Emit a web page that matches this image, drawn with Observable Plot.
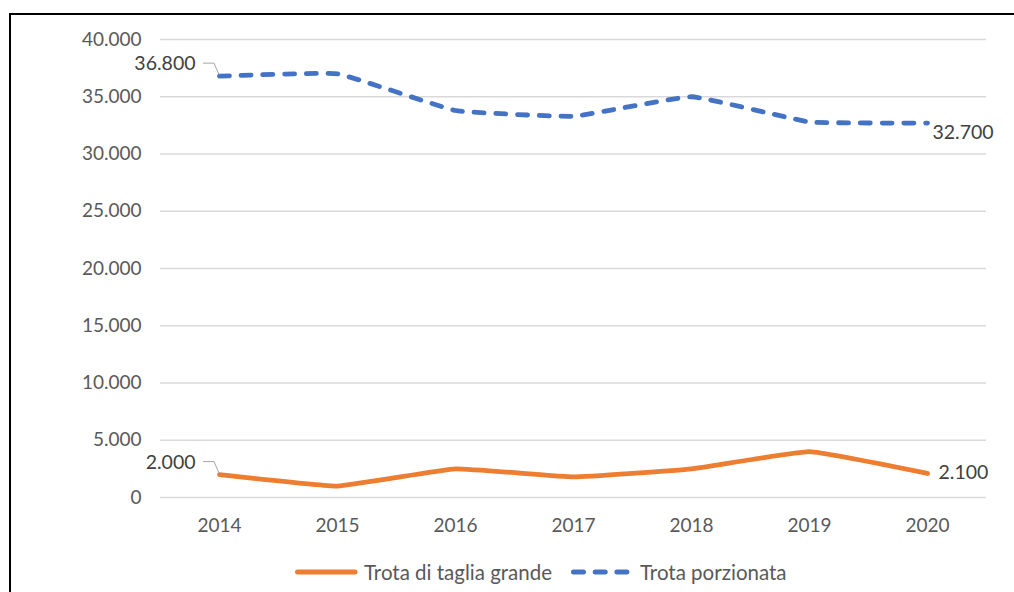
<!DOCTYPE html>
<html>
<head>
<meta charset="utf-8">
<script src="https://cdn.jsdelivr.net/npm/d3@7"></script>
<script src="https://cdn.jsdelivr.net/npm/@observablehq/plot@0.6"></script>
<style>
  html, body { margin: 0; padding: 0; background: #fff; }
  body { width: 1014px; height: 592px; position: relative; overflow: hidden; font-family: Lato, "Open Sans", sans-serif; }
  #frame { position: absolute; left: 9px; top: 13px; width: 1020px; height: 600px; border-left: 2px solid #000; border-top: 2px solid #000; box-sizing: border-box; }
  #chart { position: absolute; left: 0; top: 0; }
  #legend { position: absolute; left: 0; top: 559px; width: 1014px; height: 26px; font-size: 20.5px; color: #595959; white-space: nowrap; }
  #legend .item { position: absolute; top: 0; display: flex; align-items: center; height: 26px; }
  #legend svg { margin-right: 6px; }
</style>
</head>
<body>
<div id="frame"></div>
<div id="chart"></div>
<div id="legend"></div>
<script>
const years = [2014, 2015, 2016, 2017, 2018, 2019, 2020];
const grande = [2000, 1000, 2500, 1800, 2500, 4000, 2100];
const porzionata = [36800, 37000, 33800, 33300, 35000, 32800, 32700];
const seriesNames = ["Trota di taglia grande", "Trota porzionata"];
const seriesColors = ["#ED7D31", "#4472C4"];
const yTicks = [0, 5000, 10000, 15000, 20000, 25000, 30000, 35000, 40000];

const fmt = d => d3.format(",")(d).replace(/,/g, ".");

const rows = [];
years.forEach((y, i) => {
  rows.push({year: String(y), value: grande[i], series: seriesNames[0]});
  rows.push({year: String(y), value: porzionata[i], series: seriesNames[1]});
});
const rowsG = rows.filter(d => d.series === seriesNames[0]);
const rowsP = rows.filter(d => d.series === seriesNames[1]);
const firstLabels = [rowsG[0], rowsP[0]];
const lastLabels = [rowsG[rowsG.length - 1], rowsP[rowsP.length - 1]];

const leaderRender = (index, scales, values, dimensions, context) => {
  const g = d3.create("svg:g");
  for (const i of index) {
    const x = values.x[i], y = values.y[i];
    g.append("path")
      .attr("d", `M${x - 16},${y - 12.5}H${x - 5}L${x},${y - 1}`)
      .attr("fill", "none")
      .attr("stroke", "#a6a6a6")
      .attr("stroke-width", 1);
  }
  return g.node();
};

const curveOpts = {curve: "cardinal", tension: 0.7};

const chart = Plot.plot({
  width: 1014,
  height: 545,
  marginLeft: 160,
  marginRight: 28,
  marginTop: 39,
  marginBottom: 48,
  style: {fontFamily: "Lato, 'Open Sans', sans-serif", fontSize: "19px", color: "#595959", background: "transparent", overflow: "visible"},
  x: {type: "point", domain: years.map(String), padding: 0.5, label: null},
  y: {domain: [0, 40000], label: null},
  marks: [
    Plot.gridY(yTicks, {stroke: "#d9d9d9", strokeOpacity: 1, strokeWidth: 1.5}),
    Plot.axisY(yTicks, {tickSize: 0, tickPadding: 19, tickFormat: fmt, fill: "#595959", fontSize: 19}),
    Plot.axisX(years.map(String), {tickSize: 0, tickPadding: 21, fill: "#595959", fontSize: 19}),
    Plot.line(rowsG, {x: "year", y: "value", stroke: seriesColors[0], strokeWidth: 4.8, ...curveOpts, strokeLinecap: "round", strokeLinejoin: "round"}),
    Plot.line(rowsP, {x: "year", y: "value", stroke: seriesColors[1], strokeWidth: 4.8, ...curveOpts, strokeLinecap: "round", strokeDasharray: "10,11.7"}),
    Plot.dot(firstLabels, {x: "year", y: "value", r: 0, render: leaderRender}),
    Plot.text(firstLabels, {x: "year", y: "value", text: d => fmt(d.value), textAnchor: "end", dx: -24, dy: -12, fill: "#404040", fontSize: 19.5}),
    Plot.text([lastLabels[1]], {x: "year", y: "value", text: d => fmt(d.value), textAnchor: "start", dx: 5, dy: 10, fill: "#404040", fontSize: 19.5}),
    Plot.text([lastLabels[0]], {x: "year", y: "value", text: d => fmt(d.value), textAnchor: "start", dx: 11, dy: -1, fill: "#404040", fontSize: 19.5})
  ]
});
document.getElementById("chart").appendChild(chart);

const legend = d3.select("#legend");
const legendLeft = [294, 570];
seriesNames.forEach((name, i) => {
  const item = legend.append("div").attr("class", "item").style("left", legendLeft[i] + "px");
  const svg = item.append("svg").attr("width", 64).attr("height", 12);
  svg.append("line")
    .attr("x1", 3.5).attr("x2", 61).attr("y1", 6).attr("y2", 6)
    .attr("stroke", seriesColors[i]).attr("stroke-width", 5)
    .attr("stroke-linecap", "round")
    .attr("stroke-dasharray", i === 1 ? "10,11.7" : null);
  item.append("span").text(name);
});
</script>
</body>
</html>
